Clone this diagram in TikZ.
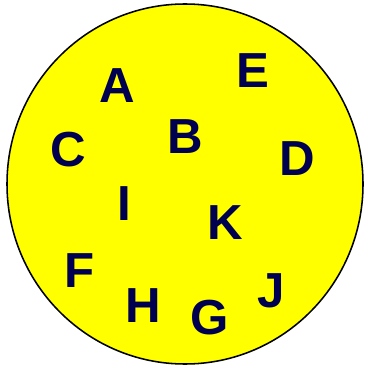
\documentclass[tikz,border=0pt]{standalone}
\usepackage{fontspec}
\setmainfont{Liberation Sans}
\usetikzlibrary{positioning}
\definecolor{setfill}{HTML}{FFFF00}
\definecolor{lettnavy}{HTML}{000050}

\begin{document}
\begin{tikzpicture}[
    x=0.025cm, y=-0.025cm,
    set ring/.style={draw=black, line width=1.1pt, fill=setfill},
    elem/.style={font=\fontsize{35}{42}\selectfont\bfseries, text=lettnavy,
        inner sep=0pt, anchor=center},
]

% ══════════════════════════════════════════════════════════════════════
%  FRAME — picture size of the reference
% ══════════════════════════════════════════════════════════════════════
\useasboundingbox (0,0) rectangle (364,366);

% ── the set ───────────────────────────────────────────────────────────
\draw[set ring] (185,184) ellipse [x radius=178, y radius=180];

% ── its elements ──────────────────────────────────────────────────────
\node[elem] (eA) at (117,86)  {A};
\node[elem] (eE) at (253,71)  {E};
\node[elem] (eB) at (185,137) {B};
\node[elem] (eC) at (68,150)  {C};
\node[elem] (eD) at (297,159) {D};
\node[elem] (eI) at (124,204) {I};
\node[elem] (eK) at (225,223) {K};
\node[elem] (eF) at (80,271)  {F};
\node[elem] (eJ) at (271,291) {J};
\node[elem] (eH) at (143,306) {H};
\node[elem] (eG) at (210,318) {G};

\end{tikzpicture}
\end{document}
